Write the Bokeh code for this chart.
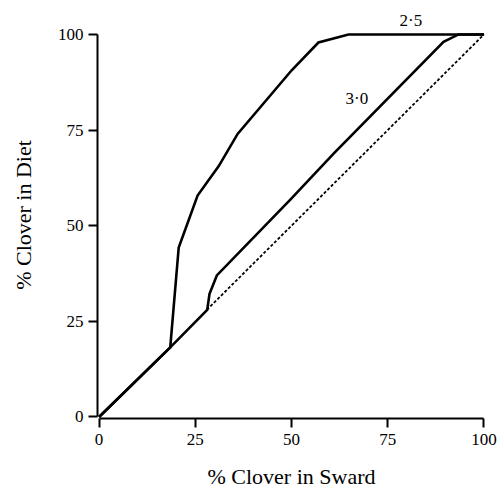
from bokeh.plotting import figure
from bokeh.models import Range1d, FixedTicker, Label
from bokeh.embed import file_html
from bokeh.resources import INLINE

# Data
ticks = [0, 25, 50, 75, 100]

curve25_x = [0, 18.5, 20.7, 25.6, 31.1, 36.0, 50.1, 57.0, 64.8, 100]
curve25_y = [0, 18.2, 44.3, 57.9, 65.6, 74.0, 90.7, 97.9, 100, 100]

curve30_x = [0, 18.5, 28.1, 28.7, 30.6, 49.7, 61.0, 89.5, 93.4, 100]
curve30_y = [0, 18.2, 28.0, 32.2, 37.0, 56.8, 68.9, 98.1, 100, 100]

diag_x = [28, 100]
diag_y = [28, 100]

labels = ["2·5", "3·0"]
label_x = [81.0, 67.0]
label_y = [103.6, 83.2]

FONT = "Liberation Serif"

p = figure(width=504, height=494, output_backend="svg", toolbar_location=None,
           x_range=Range1d(-0.4, 100.4), y_range=Range1d(-0.4, 106),
           min_border_left=97, min_border_right=19, min_border_top=11, min_border_bottom=76)
p.outline_line_color = None
p.background_fill_color = "white"
p.border_fill_color = "white"
p.grid.visible = False

for ax in (p.xaxis[0], p.yaxis[0]):
    ax.ticker = FixedTicker(ticks=ticks)
    ax.minor_tick_line_color = None
    ax.major_tick_out = 9
    ax.major_tick_in = 0
    ax.major_tick_line_width = 2
    ax.major_tick_line_color = "black"
    ax.axis_line_width = 2
    ax.axis_line_color = "black"
    ax.bounds = (0, 100)
    ax.major_label_text_font = FONT
    ax.major_label_text_font_size = "17px"
    ax.major_label_text_color = "black"
    ax.axis_label_text_font = FONT
    ax.axis_label_text_font_size = "22px"
    ax.axis_label_text_font_style = "normal"
    ax.axis_label_text_color = "black"

p.xaxis.axis_label = "% Clover in Sward"
p.yaxis.axis_label = "% Clover in Diet"
p.xaxis.major_label_standoff = 6
p.yaxis.major_label_standoff = 5
p.xaxis.axis_label_standoff = 16
p.yaxis.axis_label_standoff = 19

p.line(diag_x, diag_y, line_color="black", line_width=1.8, line_dash="3 2")
p.line(curve30_x, curve30_y, line_color="black", line_width=2.6, line_join="miter")
p.line(curve25_x, curve25_y, line_color="black", line_width=2.6, line_join="miter")

for t, lx, ly in zip(labels, label_x, label_y):
    p.add_layout(Label(x=lx, y=ly, text=t, text_font=FONT, text_font_size="17px",
                       text_align="center", text_baseline="middle", text_color="black"))

open("out.html", "w").write(file_html(p, INLINE))
